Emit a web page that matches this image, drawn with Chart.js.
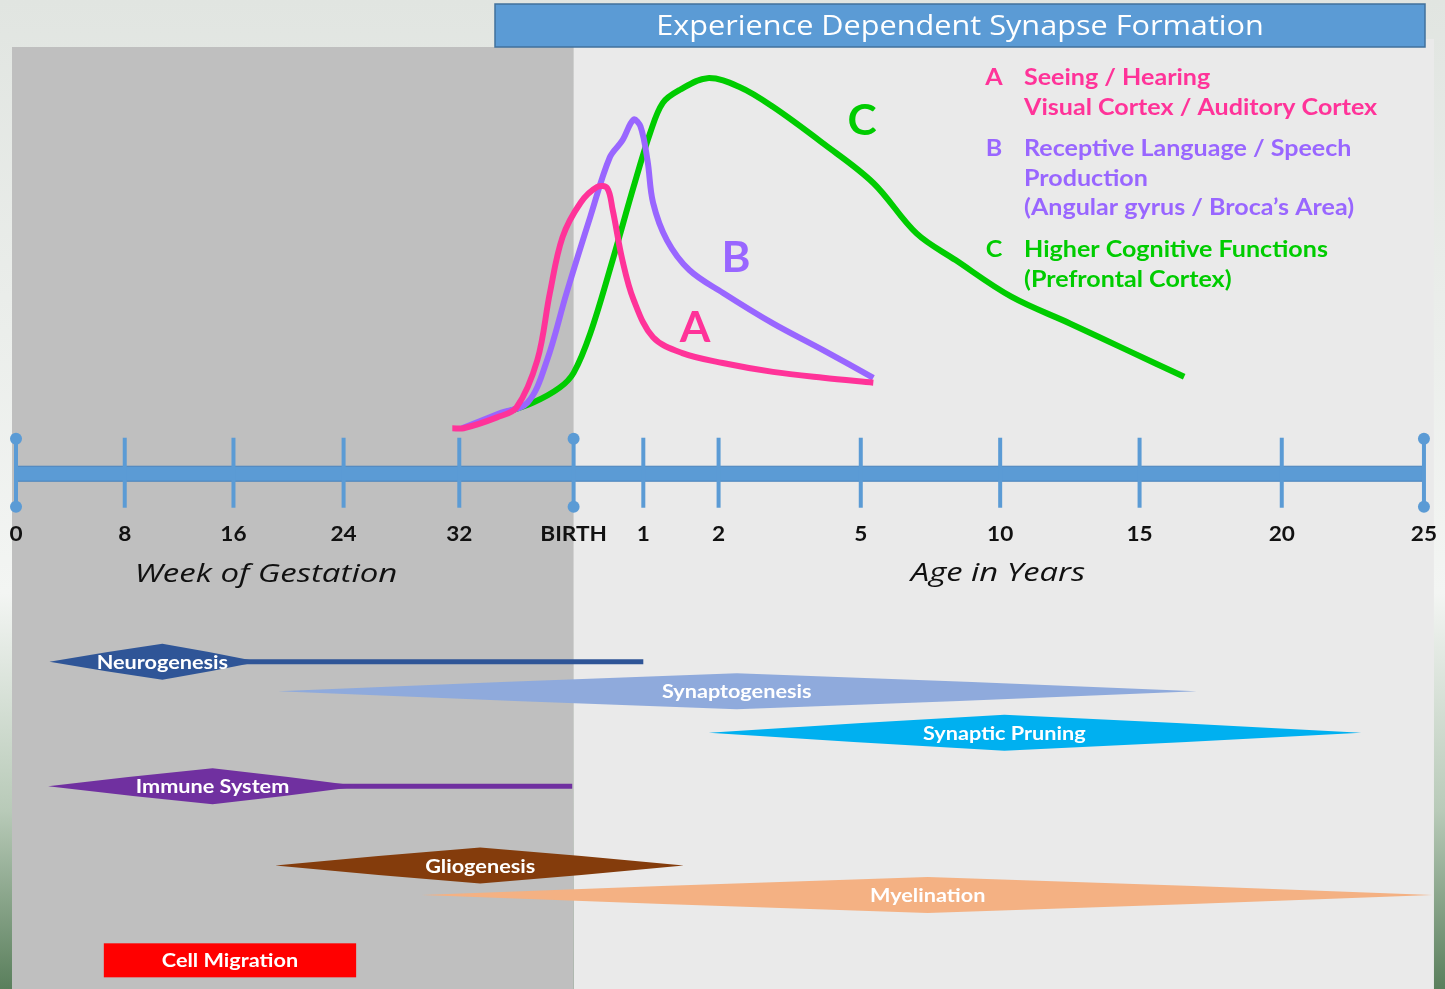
<!DOCTYPE html>
<html>
<head>
<meta charset="utf-8">
<script src="https://cdn.jsdelivr.net/npm/chart.js@4.4.1/dist/chart.umd.min.js"></script>
<style>
    html, body { margin: 0; padding: 0; background: #e6e9e6; overflow: hidden; }
    #wrap { width: 1445px; height: 989px; position: relative; }
</style>
</head>
<body>
<div id="wrap"><canvas id="chart"></canvas></div>
<script>
// --- timeline axis (axis units: weeks of gestation, then stretched years after birth)
const tickPos = [0, 7.8, 15.6, 23.5, 31.8, 40, 45, 50.4, 60.6, 70.6, 80.6, 90.8, 101];
const tickLabels = ['0', '8', '16', '24', '32', 'BIRTH', '1', '2', '5', '10', '15', '20', '25'];
const dotTicks = [0, 5, 12];
const timelineLevel = 52.1;

// --- synapse formation curves (x = axis units, y = relative density)
const seeingX = [31.3, 32.1, 34.5, 35.9, 37.4, 38.3, 39.2, 40.5, 41.7, 42.4, 42.8, 43.5, 44.3, 45.7, 47.8, 50.7, 54.3, 57.9, 61.5];
const seeingY = [56.7, 56.7, 57.8, 58.8, 63.6, 70.4, 76.0, 79.5, 81.1, 81.0, 78.8, 73.7, 69.7, 65.9, 64.3, 63.3, 62.4, 61.8, 61.3];
const languageX = [32.0, 34.7, 36.7, 38.1, 39.5, 41.2, 42.6, 43.5, 44.3, 44.8, 45.3, 45.7, 46.7, 48.3, 50.7, 54.3, 57.9, 61.5];
const languageY = [56.7, 58.2, 59.3, 63.6, 70.4, 78.1, 84.1, 85.8, 87.9, 87.2, 83.8, 79.5, 75.7, 72.7, 70.4, 67.3, 64.6, 61.8];
const cognitiveX = [34.5, 37.1, 39.0, 40.0, 41.2, 42.8, 44.3, 45.5, 46.4, 47.6, 49.6, 51.9, 54.3, 57.9, 61.5, 64.6, 67.4, 71.4, 75.6, 79.7, 83.8];
const cognitiveY = [58.0, 59.3, 60.8, 62.3, 66.3, 73.7, 81.1, 86.6, 89.6, 90.9, 92.1, 91.2, 89.2, 85.5, 81.5, 76.4, 73.7, 70.0, 67.3, 64.6, 61.9];

// --- developmental processes (start / peak / end / trailing line in axis units)
const phaseNames = ['Neurogenesis', 'Synaptogenesis', 'Synaptic Pruning', 'Immune System', 'Gliogenesis', 'Myelination', 'Cell Migration'];
const phaseStart = [2.4, 18.8, 49.7, 2.3, 18.6, 29.1, 6.3];
const phasePeak = [10.5, 51.7, 70.9, 14.1, 33.3, 65.4, null];
const phaseEnd = [17.4, 84.7, 96.5, 24.7, 47.9, 101.6, 24.4];
const phaseTail = [45.0, null, null, 39.9, null, null, null];
const phaseRow = [33.1, 30.1, 25.9, 20.5, 12.5, 9.5, 2.9];
const phaseColors = ['#2f5597', '#8faadc', '#00b0f0', '#7030a0', '#843c0c', '#f4b183', '#ff0000'];

const PINK = '#ff3399', PURPLE = '#9966ff', GREEN = '#00cc00';
const FONT = 'Lato, "Open Sans", sans-serif';
const SX = 1.13; // the slide text is a little wide, stretch it the same way

const pts = (xs, ys) => xs.map((v, i) => ({ x: v, y: ys[i] }));

function wideText(ctx, text, x, y, sx, align) {
    ctx.save();
    ctx.translate(x, y);
    ctx.scale(sx, 1);
    ctx.textAlign = align || 'center';
    ctx.fillText(text, 0, 0);
    ctx.restore();
}

const diagramPlugin = {
    id: 'diagram',
    beforeDatasetsDraw(chart) {
        const { ctx, scales: { x, y } } = chart;
        const W = chart.width, H = chart.height;
        const px = v => x.getPixelForValue(v);
        const py = v => y.getPixelForValue(v);
        ctx.save();
        ctx.textBaseline = 'middle';

        // slide background + the two panels
        const g = ctx.createLinearGradient(0, 0, 0, H);
        g.addColorStop(0, '#e1e5e1');
        g.addColorStop(0.6, '#f3f5f3');
        g.addColorStop(0.82, '#b8cab8');
        g.addColorStop(1, '#5a7f5c');
        ctx.fillStyle = g;
        ctx.fillRect(0, 0, W, H);
        const birth = px(tickPos[5]);
        const right = px(tickPos[12]) + 10;
        ctx.fillStyle = '#eaeaea';
        ctx.fillRect(birth, 39, right - birth, H - 39);
        ctx.fillStyle = '#bfbfbf';
        ctx.fillRect(12, 47, birth - 12, H - 47);

        // title box
        ctx.fillStyle = '#5b9bd5';
        ctx.fillRect(495, 4, 930, 43);
        ctx.strokeStyle = '#41719c';
        ctx.lineWidth = 1.5;
        ctx.strokeRect(495, 4, 930, 43);
        ctx.fillStyle = '#ffffff';
        ctx.font = '27px "Open Sans", sans-serif';
        wideText(ctx, 'Experience Dependent Synapse Formation', 960, 27, 1.135);

        // timeline bar
        const ty = py(timelineLevel);
        const x0 = px(tickPos[0]), x1 = px(tickPos[12]);
        ctx.fillStyle = '#5b9bd5';
        ctx.fillRect(x0, ty - 7.5, x1 - x0, 15);
        ctx.strokeStyle = '#4a84bd';
        ctx.lineWidth = 1;
        ctx.strokeRect(x0, ty - 7.5, x1 - x0, 15);

        ctx.strokeStyle = '#5b9bd5';
        ctx.fillStyle = '#5b9bd5';
        ctx.lineWidth = 4;
        tickPos.forEach((v, i) => {
            const tx = px(v);
            ctx.beginPath();
            ctx.moveTo(tx, ty - 36);
            ctx.lineTo(tx, ty + 34);
            ctx.stroke();
            if (dotTicks.includes(i)) {
                [ty - 35, ty + 33].forEach(cy => {
                    ctx.beginPath();
                    ctx.arc(tx, cy, 6, 0, Math.PI * 2);
                    ctx.fill();
                });
            }
        });

        ctx.fillStyle = '#111111';
        ctx.font = 'bold 20px ' + FONT;
        tickPos.forEach((v, i) => {
            wideText(ctx, tickLabels[i], px(v), ty + 61, SX);
        });
        ctx.font = 'italic 26px "Open Sans", sans-serif';
        wideText(ctx, 'Week of Gestation', 266, ty + 101, 1.27);
        wideText(ctx, 'Age in Years', 998, ty + 100, 1.26);

        // process shapes
        phaseNames.forEach((name, i) => {
            const yc = py(phaseRow[i]);
            const xs = px(phaseStart[i]), xe = px(phaseEnd[i]);
            ctx.fillStyle = phaseColors[i];
            ctx.strokeStyle = phaseColors[i];
            let cx;
            if (phasePeak[i] === null) {
                ctx.fillRect(xs, yc - 17, xe - xs, 34);
                cx = (xs + xe) / 2;
            } else {
                cx = px(phasePeak[i]);
                if (phaseTail[i] !== null) {
                    ctx.lineWidth = 5;
                    ctx.beginPath();
                    ctx.moveTo(cx, yc);
                    ctx.lineTo(px(phaseTail[i]), yc);
                    ctx.stroke();
                }
                const h = 18;
                ctx.beginPath();
                ctx.moveTo(xs, yc);
                ctx.quadraticCurveTo((xs + cx) / 2, yc - h * 0.55, cx, yc - h);
                ctx.quadraticCurveTo((cx + xe) / 2, yc - h * 0.55, xe, yc);
                ctx.quadraticCurveTo((cx + xe) / 2, yc + h * 0.55, cx, yc + h);
                ctx.quadraticCurveTo((xs + cx) / 2, yc + h * 0.55, xs, yc);
                ctx.closePath();
                ctx.fill();
            }
            ctx.fillStyle = '#ffffff';
            ctx.font = 'bold 19px ' + FONT;
            wideText(ctx, name, cx, yc + 1, 1.14);
        });
        ctx.restore();
    },
    afterDatasetsDraw(chart) {
        const { ctx } = chart;
        ctx.save();
        ctx.textBaseline = 'middle';
        ctx.font = 'bold 42px ' + FONT;
        ctx.fillStyle = GREEN;
        wideText(ctx, 'C', 862, 121, 1.05);
        ctx.fillStyle = PURPLE;
        wideText(ctx, 'B', 736, 258, 1.05);
        ctx.fillStyle = PINK;
        wideText(ctx, 'A', 695, 328, 1.05);

        // legend
        ctx.font = 'bold 23px ' + FONT;
        const rows = [
            [PINK, 'A', ['Seeing / Hearing', 'Visual Cortex / Auditory Cortex'], 78],
            [PURPLE, 'B', ['Receptive Language / Speech', 'Production', '(Angular gyrus / Broca\u2019s Area)'], 149],
            [GREEN, 'C', ['Higher Cognitive Functions', '(Prefrontal Cortex)'], 250]
        ];
        rows.forEach(([color, letter, lines, top]) => {
            ctx.fillStyle = color;
            wideText(ctx, letter, 994, top, 1.09);
            lines.forEach((t, k) => wideText(ctx, t, 1024, top + k * 29.3, 1.09, 'left'));
        });
        ctx.restore();
    }
};

const lineStyle = color => ({
    borderColor: color,
    borderWidth: 6,
    pointRadius: 0,
    fill: false,
    tension: 0.35
});

const ctx = document.getElementById('chart');
new Chart(ctx, {
    type: 'line',
    data: {
        datasets: [
            { label: 'A', data: pts(seeingX, seeingY), ...lineStyle(PINK) },
            { label: 'B', data: pts(languageX, languageY), ...lineStyle(PURPLE) },
            { label: 'C', data: pts(cognitiveX, cognitiveY), ...lineStyle(GREEN) }
        ]
    },
    options: {
        responsive: true,
        maintainAspectRatio: false,
        animation: false,
        layout: { padding: 0 },
        plugins: { legend: { display: false }, tooltip: { enabled: false } },
        scales: {
            x: { type: 'linear', min: -1.148, max: 102.51, display: false },
            y: { type: 'linear', min: 0, max: 100, display: false }
        }
    },
    plugins: [diagramPlugin]
});
</script>
</body>
</html>
